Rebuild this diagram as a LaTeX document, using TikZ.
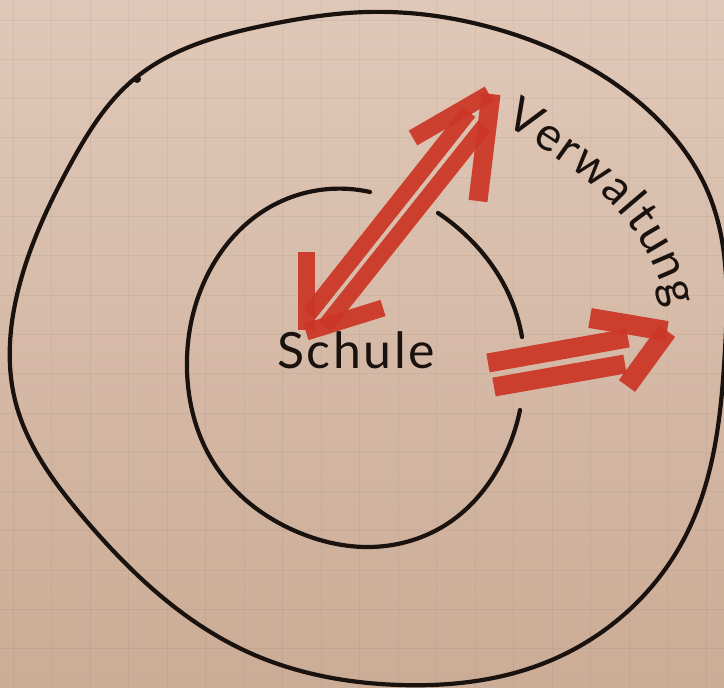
\documentclass[tikz,border=0pt]{standalone}
\usepackage{fontspec}
\newfontfamily\handfont{Lato}
\usetikzlibrary{decorations.text,hobby}
\definecolor{paperTop}{RGB}{224,200,184}
\definecolor{paperBot}{RGB}{203,172,150}
\definecolor{marker}{RGB}{204,54,38}
\definecolor{ink}{RGB}{26,18,14}
\begin{document}
\begin{tikzpicture}[x=1pt,y=-1pt,
  inkline/.style={draw=ink,line width=4.2pt,line cap=round,line join=round},
  markerstroke/.style={draw=marker,line width=17pt,line cap=butt,opacity=0.93},
  gridline/.style={draw=black,opacity=0.045,line width=1pt},
  handlabel/.style={font=\handfont\fontsize{50}{50}\selectfont\addfontfeature{LetterSpace=5},text=ink,inner sep=0pt}]

\useasboundingbox (0,0) rectangle (724,688);
\shade[top color=paperTop,bottom color=paperBot] (0,0) rectangle (724,688);
\foreach \i in {0,...,18} \draw[gridline] ({13+38.5*\i},0) -- ({13+38.5*\i},688);
\foreach \j in {0,...,17} \draw[gridline] (0,{20+39.3*\j}) -- (724,{20+39.3*\j});

% outer circle (Verwaltung)
\draw[inkline, use Hobby shortcut, closed=true]
  (133,80) .. (267,25) .. (367,12) .. (500,30) .. (640,103)
  .. (710,197) .. (725,350) .. (687,533) .. (547,662)
  .. (400,685) .. (250,653) .. (83,517) .. (15,400) .. (20,283) .. (70,165);
\fill[ink] (137,79) circle (4);

% inner circle (Schule), two open arcs
\draw[inkline, use Hobby shortcut]
  (370,192) .. (270,207) .. (205,280) .. (187,370) .. (215,465)
  .. (300,533) .. (370,547) .. (450,522) .. (500,465) .. (520,410);
\draw[inkline, use Hobby shortcut]
  (438,213) .. (480,250) .. (510,297) .. (522,337);

% labels
\node[handlabel, anchor=base] (schule) at (356,368) {Schule};
\path[decorate, decoration={text along path,
   text={|\handfont\fontsize{47}{47}\selectfont\color{ink}|Verwaltung},
   text align={fit to path}}]
   (503,124) .. controls (580,170) and (645,215) .. (668,308);

% double-headed arrow Schule <-> Verwaltung
\coordinate (uptip) at (489,94);
\coordinate (lowtip) at (306,330);
\draw[markerstroke, line width=16pt] (309,314) -- (469,112);
\draw[markerstroke, line width=16pt] (325,326) -- (484,126);
\draw[markerstroke, line width=17pt] (uptip) -- (413,138);
\draw[markerstroke, line width=19pt] ([xshift=2pt]uptip) -- (478,201);
\draw[markerstroke, line width=17pt] (306,252) -- (lowtip);
\draw[markerstroke, line width=17pt] ([yshift=-2pt]lowtip) -- (383,308);

% arrow Schule -> Verwaltung (right)
\coordinate (rtip) at (667,331);
\draw[markerstroke, line width=19pt] (488,363) -- (628,338);
\draw[markerstroke, line width=19pt] (494,387) -- (625,364);
\draw[markerstroke, line width=20pt] (590,318) -- (rtip);
\draw[markerstroke, line width=20pt] (rtip) -- (627,386);
\end{tikzpicture}
\end{document}
